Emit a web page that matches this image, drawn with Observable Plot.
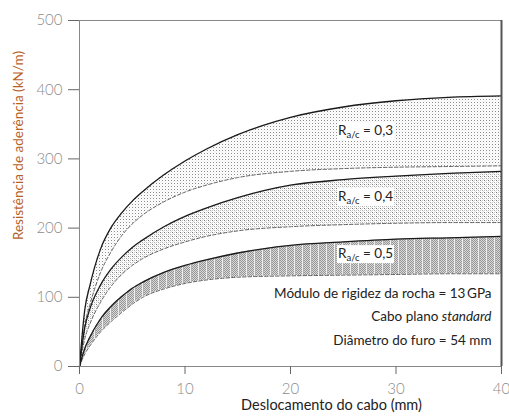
<!DOCTYPE html>
<html>
<head>
<meta charset="utf-8">
<script src="https://cdn.jsdelivr.net/npm/d3@7"></script>
<script src="https://cdn.jsdelivr.net/npm/@observablehq/plot@0.6"></script>
<style>
  body { margin: 0; background: #fff; }
  svg { display: block; }
</style>
</head>
<body>
<div id="chart"></div>
<script>
// Cable displacement (mm)
const disp = [0, 0.5, 1, 2, 3, 4, 5, 6, 8, 10, 12, 15, 20, 25, 30, 35, 40];

// Bond strength (kN/m) — upper (solid) and lower (dashed) envelopes per ratio
const upper03 = [0, 82, 118, 170, 201, 222, 239, 253, 277, 297, 314, 335, 360, 375, 384, 389, 391];
const lower03 = [0, 60, 90, 136, 166, 189, 206, 219, 238, 252, 262, 273, 282, 286, 288, 289, 290];
const upper04 = [0, 56, 84, 118, 141, 158, 172, 183, 202, 217, 229, 244, 262, 270, 275, 279, 282];
const lower04 = [0, 40, 62, 93, 116, 133, 146, 156, 170, 180, 188, 196, 202, 205, 207, 208, 208];
const upper05 = [0, 26, 43, 69, 87, 101, 113, 122, 136, 146, 154, 164, 175, 180, 184, 186, 188];
const lower05 = [0, 18, 30, 50, 65, 78, 90, 100, 112, 120, 125, 129, 131, 132, 133, 134, 134];

const ratios = ["0,3", "0,4", "0,5"];
const xTicks = [0, 10, 20, 30, 40];
const yTicks = [0, 100, 200, 300, 400, 500];

const xLabel = "Deslocamento do cabo (mm)";
const yLabel = "Resistência de aderência (kN/m)";
const notes = ["Módulo de rigidez da rocha = 13\u2009GPa", "Cabo plano standard", "Diâmetro do furo = 54 mm"];

const fills = ["url(#dots-light)", "url(#dots-dense)", "url(#grain)"];
const bands = [
  {ratio: ratios[0], upper: upper03, lower: lower03, fill: fills[0]},
  {ratio: ratios[1], upper: upper04, lower: lower04, fill: fills[1]},
  {ratio: ratios[2], upper: upper05, lower: lower05, fill: fills[2]}
];
const rowsOf = b => disp.map((x, i) => ({x, hi: b.upper[i], lo: b.lower[i]}));

// band labels sit midway between the envelopes near x = 30 mm
const iMid = disp.indexOf(30);
const labelRows = bands.map(b => ({ratio: b.ratio, y: (b.upper[iMid] + b.lower[iMid]) / 2}));
const labelX = 24.5;

const font = "Lato, 'Open Sans', sans-serif";
const curve = "monotone-x";

const plot = Plot.plot({
  width: 509,
  height: 417,
  marginLeft: 79,
  marginRight: 8,
  marginTop: 20,
  marginBottom: 51,
  style: {fontFamily: font, background: "#fff"},
  x: {domain: [0, 40]},
  y: {domain: [0, 500]},
  marks: [
    ...bands.map(b => Plot.areaY(rowsOf(b), {x: "x", y1: "lo", y2: "hi", fill: b.fill, curve})),
    ...bands.map(b => Plot.line(rowsOf(b), {x: "x", y: "lo", stroke: "#606060", strokeWidth: 1, strokeDasharray: "3.5,2", curve})),
    ...bands.map(b => Plot.line(rowsOf(b), {x: "x", y: "hi", stroke: "#1a1a1a", strokeWidth: 1.3, curve})),
    Plot.frame({stroke: "#888"}),
    Plot.ruleX([40], {stroke: "#555", strokeWidth: 2}),
    Plot.axisY({ticks: yTicks, tickSize: 11, tickPadding: 6, fontSize: 15, stroke: "#666", fill: "#8c8c8c", fontWeight: 300, label: null}),
    Plot.axisX({ticks: xTicks, tickSize: 8, tickPadding: 9, fontSize: 15, stroke: "#666", fill: "#8c8c8c", fontWeight: 300, label: null}),
    Plot.text([yLabel], {frameAnchor: "left", textAnchor: "middle", rotate: -90, dx: -61, dy: -48, fontSize: 13.5, fill: "#b8601f"}),
    Plot.text([xLabel], {frameAnchor: "bottom", dx: 41, dy: 43, fontSize: 14.5, fill: "#222"}),
    Plot.text(labelRows, {x: () => labelX, y: "y", dy: -3, text: "ratio", textAnchor: "start", fontSize: 13.5, fill: "#222"}),
    ...notes.map((n, i) => Plot.text([n], {frameAnchor: "bottom-right", dx: -10, dy: -69 + 23.5 * i, fontSize: 13.5, fill: "#222"}))
  ]
});

// stipple patterns used to fill the three bands
plot.insertAdjacentHTML("afterbegin", `
<defs>
  <pattern id="dots-light" width="3" height="3" patternUnits="userSpaceOnUse">
    <rect x="0" y="0" width="1" height="1" fill="#8a8a8a"/>
    <rect x="1.5" y="1.5" width="1" height="1" fill="#dcdcdc"/>
  </pattern>
  <pattern id="dots-dense" width="4" height="4" patternUnits="userSpaceOnUse">
    <rect x="0" y="0" width="1" height="1" fill="#777"/>
    <rect x="2" y="0" width="1" height="1" fill="#c4c4c4"/>
    <rect x="0" y="2" width="1" height="1" fill="#c4c4c4"/>
    <rect x="2" y="2" width="1" height="1" fill="#a8a8a8"/>
    <rect x="1" y="1" width="1" height="1" fill="#e2e2e2"/>
    <rect x="3" y="3" width="1" height="1" fill="#e2e2e2"/>
  </pattern>
  <pattern id="grain" width="8" height="2" patternUnits="userSpaceOnUse">
    <rect x="0" y="0" width="8" height="2" fill="#dadada"/>
    <rect x="0" y="0" width="1" height="1" fill="#959595"/>
    <rect x="2" y="0" width="1" height="1" fill="#959595"/>
    <rect x="4" y="0" width="1" height="1" fill="#959595"/>
    <rect x="1" y="1" width="1" height="1" fill="#959595"/>
    <rect x="3" y="1" width="1" height="1" fill="#959595"/>
    <rect x="5" y="1" width="1" height="1" fill="#959595"/>
    <rect x="6" y="0" width="1" height="2" fill="#eeeeee"/>
    <rect x="7" y="0" width="1" height="2" fill="#b0b0b0"/>
  </pattern>
</defs>`);

document.getElementById("chart").appendChild(plot);

const svg = d3.select(plot);

// "R" with subscript "a/c", on a white background
svg.selectAll("text").filter(function () { return ratios.includes(this.textContent); }).each(function () {
  const t = d3.select(this);
  const v = t.text();
  t.text(null);
  t.append("tspan").text("R");
  t.append("tspan").attr("dy", 3).attr("font-size", 9.5).text("a/c");
  t.append("tspan").attr("dy", -3).text(" = " + v);
  const bb = this.getBBox();
  d3.select(this.parentNode).insert("rect", () => this)
    .attr("x", bb.x - 1).attr("y", bb.y).attr("width", bb.width + 2).attr("height", bb.height)
    .attr("transform", t.attr("transform"))
    .attr("fill", "#fff");
});

// italic "standard"
svg.selectAll("text").filter(function () { return this.textContent.endsWith(" standard"); }).each(function () {
  const t = d3.select(this);
  const s = t.text();
  t.text(null);
  t.append("tspan").text(s.slice(0, -"standard".length));
  t.append("tspan").attr("font-style", "italic").text("standard");
});
</script>
</body>
</html>
